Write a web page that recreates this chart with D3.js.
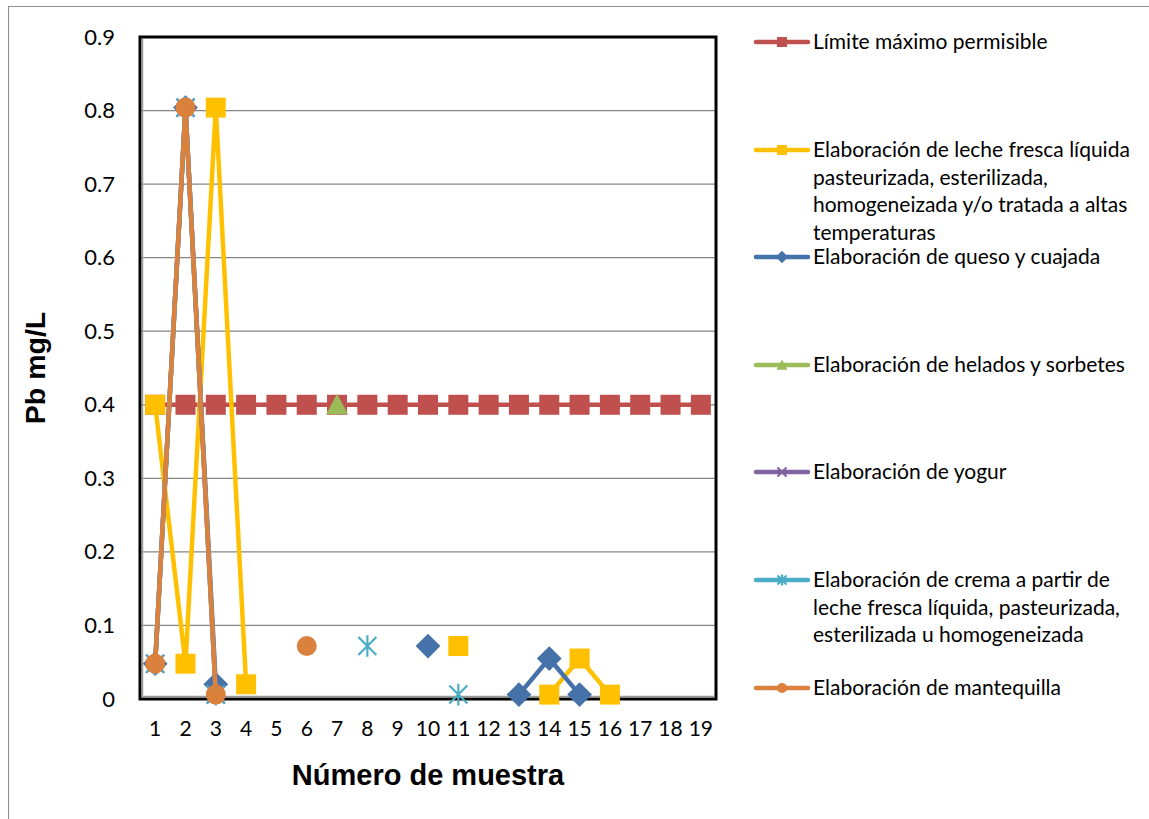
<!DOCTYPE html>
<html><head><meta charset="utf-8">
<script src="https://cdn.jsdelivr.net/npm/d3@7"></script>
<style>body{margin:0;background:#fff;} text{font-family:Lato,"Open Sans",sans-serif;}</style>
</head><body>
<svg id="chart" width="1149" height="819"></svg>
<script>
const samples = d3.range(1, 20).map(String);
const yTicks = [0,0.1,0.2,0.3,0.4,0.5,0.6,0.7,0.8,0.9];
const seriesNames = [
  "Límite máximo permisible",
  "Elaboración de leche fresca líquida pasteurizada, esterilizada, homogeneizada y/o tratada a altas temperaturas",
  "Elaboración de queso y cuajada",
  "Elaboración de helados y sorbetes",
  "Elaboración de yogur",
  "Elaboración de crema a partir de leche fresca líquida, pasteurizada, esterilizada u homogeneizada",
  "Elaboración de mantequilla"
];
const legendLines = [
  ["Límite máximo permisible"],
  ["Elaboración de leche fresca líquida","pasteurizada, esterilizada,","homogeneizada y/o tratada a altas","temperaturas"],
  ["Elaboración de queso y cuajada"],
  ["Elaboración de helados y sorbetes"],
  ["Elaboración de yogur"],
  ["Elaboración de crema a partir de","leche fresca líquida, pasteurizada,","esterilizada u homogeneizada"],
  ["Elaboración de mantequilla"]
];
const N = null;
const limite      = [0.4,0.4,0.4,0.4,0.4,0.4,0.4,0.4,0.4,0.4,0.4,0.4,0.4,0.4,0.4,0.4,0.4,0.4,0.4];
const leche       = [0.4,0.048,0.804,0.02,N,N,N,N,N,N,0.072,N,N,0.006,0.055,0.006,N,N,N];
const queso       = [0.048,0.804,0.02,N,N,N,N,N,N,0.072,N,N,0.006,0.055,0.006,N,N,N,N];
const helados     = [N,N,N,N,N,N,0.4,N,N,N,N,N,N,N,N,N,N,N,N];
const yogur       = [0.048,0.804,0.006,N,N,N,N,N,N,N,N,N,N,N,N,N,N,N,N];
const crema       = [0.048,0.804,0.006,N,N,N,N,0.072,N,N,0.006,N,N,N,N,N,N,N,N];
const mantequilla = [0.048,0.804,0.006,N,N,0.072,N,N,N,N,N,N,N,N,N,N,N,N,N];

const seriesValues = [limite, leche, queso, helados, yogur, crema, mantequilla];
const colors = ["#C0504D","#FFC000","#4672AA","#9BBB59","#8064A2","#4BACC6","#DB813E"];
const markers = ["square","square","diamond","triangle","x","star","circle"];

const svg = d3.select("#chart");
const L = 140, R = 716, T = 37, B = 699;

// outer chart frame
svg.append("rect").attr("x",8.5).attr("y",6.5).attr("width",1200).attr("height",900)
  .attr("fill","none").attr("stroke","#8c8c8c").attr("stroke-width",1);

const x = d3.scaleBand().domain(samples).range([L,R]);
const y = d3.scaleLinear().domain([0,0.9]).range([B,T]);

// gridlines
svg.append("g").selectAll("line").data(yTicks.filter(d=>d>0)).join("line")
  .attr("x1",L).attr("x2",R).attr("y1",d=>y(d)).attr("y2",d=>y(d))
  .attr("stroke","#868686").attr("stroke-width",1.3);

// axes
const yAxis = svg.append("g").attr("transform",`translate(${L},0)`)
  .call(d3.axisLeft(y).tickValues(yTicks).tickSize(0).tickPadding(25).tickFormat(d=>d===0?"0":d3.format(".1f")(d)));
yAxis.select(".domain").remove();
yAxis.selectAll("text").attr("font-size",22).attr("fill","#000").style("font-family","Lato,'Open Sans',sans-serif");

const xAxis = svg.append("g").attr("transform",`translate(0,${B})`)
  .call(d3.axisBottom(x).tickSize(0).tickPadding(22));
xAxis.select(".domain").remove();
xAxis.selectAll("text").attr("font-size",21).attr("fill","#000").style("font-family","Lato,'Open Sans',sans-serif");

// plot border
svg.append("rect").attr("x",L).attr("y",T).attr("width",R-L).attr("height",B-T)
  .attr("fill","none").attr("stroke","#000").attr("stroke-width",3);
svg.append("line").attr("x1",L+2.5).attr("x2",L+2.5).attr("y1",T+2).attr("y2",B-2).attr("stroke","#9a9a9a").attr("stroke-width",1.5);
svg.append("line").attr("x1",L+2).attr("x2",R-2).attr("y1",B-2.5).attr("y2",B-2.5).attr("stroke","#9a9a9a").attr("stroke-width",1.5);

// titles
svg.append("text").attr("transform",`translate(45,${(T+B)/2}) rotate(-90)`)
  .attr("text-anchor","middle").attr("font-size",28.5).attr("font-weight","bold")
  .style("font-family","'Liberation Sans',Arial,sans-serif").text("Pb mg/L");
svg.append("text").attr("x",428).attr("y",785).attr("text-anchor","middle")
  .attr("font-size",29).attr("font-weight","bold")
  .style("font-family","'Liberation Sans',Arial,sans-serif").text("Número de muestra");

function drawMarker(g, type, cx, cy, s, color){
  if(type==="square"){
    g.append("rect").attr("x",cx-s/2).attr("y",cy-s/2).attr("width",s).attr("height",s).attr("fill",color);
  } else if(type==="diamond"){
    const h=s*0.62;
    g.append("path").attr("d",`M${cx},${cy-h}L${cx+h},${cy}L${cx},${cy+h}L${cx-h},${cy}Z`).attr("fill",color);
  } else if(type==="triangle"){
    const h=s*0.55;
    g.append("path").attr("d",`M${cx},${cy-h}L${cx+h},${cy+h*0.85}L${cx-h},${cy+h*0.85}Z`).attr("fill",color);
  } else if(type==="circle"){
    g.append("circle").attr("cx",cx).attr("cy",cy).attr("r",s/2).attr("fill",color);
  } else if(type==="x"){
    const h=s*0.45;
    g.append("path").attr("d",`M${cx-h},${cy-h}L${cx+h},${cy+h}M${cx-h},${cy+h}L${cx+h},${cy-h}`)
      .attr("stroke",color).attr("stroke-width",2.2).attr("fill","none");
  } else if(type==="star"){
    const h=s*0.45;
    g.append("path").attr("d",`M${cx-h},${cy-h}L${cx+h},${cy+h}M${cx-h},${cy+h}L${cx+h},${cy-h}M${cx},${cy-h*1.2}L${cx},${cy+h*1.2}`)
      .attr("stroke",color).attr("stroke-width",2.2).attr("fill","none");
  }
}

const cx = d => x(d) + x.bandwidth()/2;
const line = d3.line().defined(d=>d.v!==null).x(d=>cx(d.s)).y(d=>y(d.v));

seriesValues.forEach((vals, i) => {
  const data = samples.map((s,j)=>({s, v: vals[j]}));
  const g = svg.append("g");
  g.append("path").datum(data).attr("d",line).attr("fill","none")
    .attr("stroke",colors[i]).attr("stroke-width",4.5).attr("stroke-linejoin","round");
  data.filter(d=>d.v!==null).forEach(d => drawMarker(g, markers[i], cx(d.s), y(d.v), 20, colors[i]));
});

// legend
const legendY = [42,150,257,365,472,580,688];
const lg = svg.append("g");
legendLines.forEach((lines,i) => {
  const yy = legendY[i];
  lg.append("line").attr("x1",756).attr("x2",808).attr("y1",yy).attr("y2",yy)
    .attr("stroke",colors[i]).attr("stroke-width",4.5).attr("stroke-linecap","round");
  drawMarker(lg, markers[i], 782, yy, 10, colors[i]);
  lines.forEach((t,k) => {
    lg.append("text").attr("x",813).attr("y",yy+7+k*27.5).attr("font-size",21).attr("fill","#000").text(t);
  });
});
</script>
</body></html>
